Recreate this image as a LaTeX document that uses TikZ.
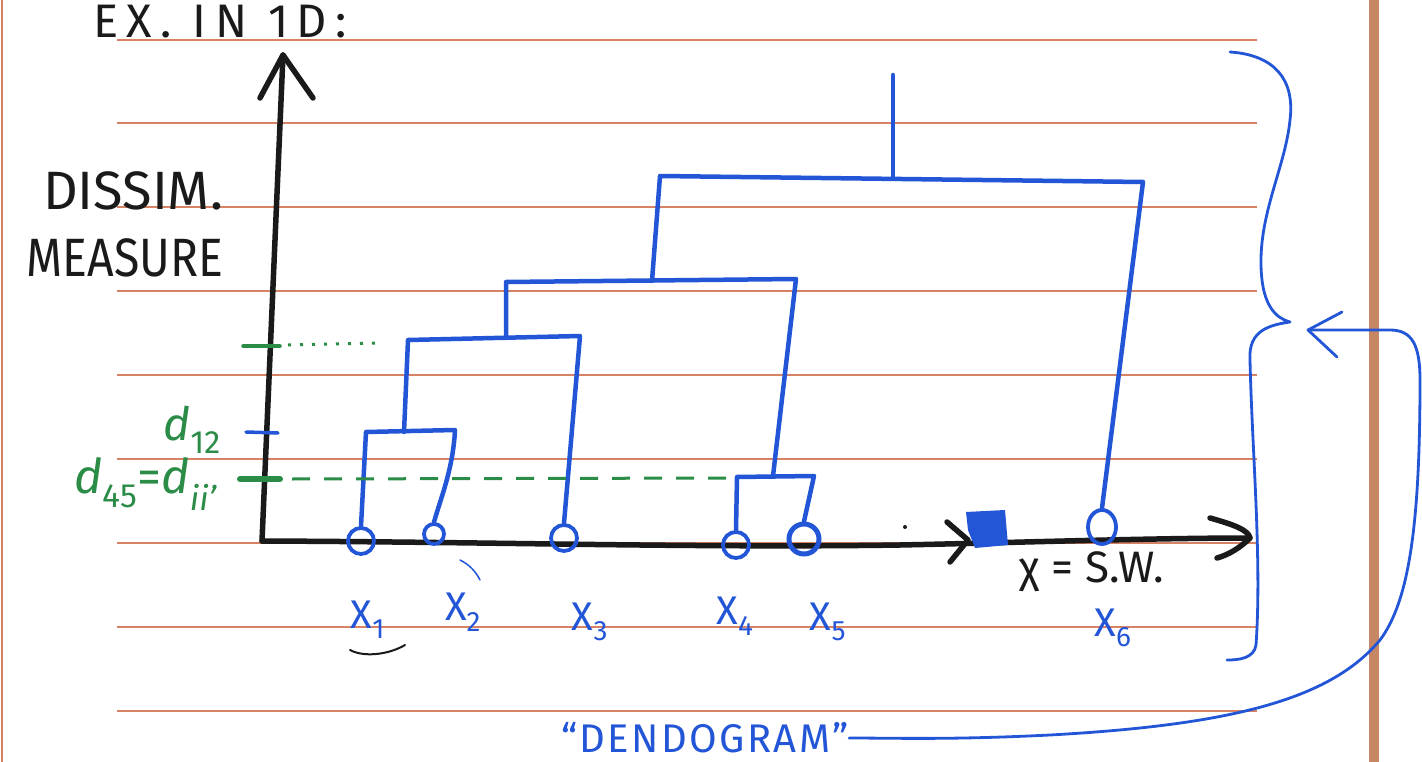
\documentclass[tikz,border=0pt]{standalone}
\usepackage{fontspec}
\usetikzlibrary{shapes.geometric}
\setmainfont{Fira Sans}
\definecolor{pen}{HTML}{2355D7}
\definecolor{grn}{HTML}{2A8C46}
\definecolor{rule}{HTML}{D78264}
\definecolor{marg}{HTML}{C88764}
\definecolor{ink}{HTML}{1A1A1A}
\tikzset{
  ruleline/.style={rule, line width=1.1pt},
  axisline/.style={ink, line width=5.5pt, line cap=round, line join=round},
  dend/.style={pen, line width=4.5pt, line cap=round, line join=round},
  leaf/.style={circle, draw=pen, line width=3.8pt, minimum size=26pt, inner sep=0pt},
  blacktext/.style={ink, inner sep=0pt, anchor=center},
  bluetext/.style={pen, inner sep=0pt, anchor=center},
  greentext/.style={grn, inner sep=0pt, anchor=center},
  bluecurve/.style={pen, line width=2.8pt, line cap=round, line join=round},
}
\begin{document}
\begin{tikzpicture}[x=1pt,y=-1pt]
\useasboundingbox (0,0) rectangle (1422,762);
\fill[white] (0,0) rectangle (1422,762);
% paper
\foreach \yy in {40,123,207,291,375,459,543,627,711}
  \draw[ruleline] (117,\yy) -- (1257,\yy);
\draw[marg, line width=10pt] (1374,0) -- (1374,762);
\draw[rule, line width=2pt] (1.5,0) -- (1.5,762);

% axes
\coordinate (o) at (262,541);
\coordinate (ytop) at (283,55);
\coordinate (xend) at (1250,538);
\draw[axisline] (o) -- (ytop);
\draw[axisline] (260,98) -- (ytop) -- (313,98);
\draw[axisline] (o) .. controls (500,542) and (700,548) .. (900,545) .. controls (1000,543) and (1150,538) .. (xend);
\draw[axisline] (1210,518) .. controls (1235,525) and (1248,530) .. (xend) .. controls (1240,548) and (1228,555) .. (1217,558);
\draw[axisline] (947,522) -- (968,540) -- (950,562);
\fill[ink] (905,527) circle (2pt);

% leaves
\node[leaf] (x1) at (361,541) {};
\node[leaf, minimum size=20pt] (x2) at (434,534) {};
\node[leaf] (x3) at (564,538) {};
\node[leaf] (x4) at (736,545) {};
\node[leaf, minimum size=30pt, line width=5pt] (x5) at (804,539) {};
\node[ellipse, draw=pen, line width=3.8pt, inner sep=0pt, minimum width=28pt, minimum height=34pt] (x6) at (1102,527) {};
\fill[pen] (966,512) -- (1005,510) -- (1008,545) -- (975,548) -- (968,530) -- cycle;
\node[inner sep=0pt] (blob) at (988,530) {};

% merge points
\coordinate (a1) at (366,432);
\coordinate (a2) at (455,430);
\coordinate (m12) at (404,432);
\coordinate (b12) at (408,340);
\coordinate (b3) at (580,336);
\coordinate (m123) at (506,338);
\coordinate (c4) at (737,477);
\coordinate (c5) at (814,476);
\coordinate (m45) at (773,476);
\coordinate (d123) at (506,282);
\coordinate (d45) at (796,279);
\coordinate (m1to5) at (652,281);
\coordinate (e1) at (660,176);
\coordinate (e6) at (1143,182);
\coordinate (root) at (893,178);
\coordinate (rtop) at (893,75);

% dendrogram
\draw[dend] (x1.north) -- (a1) -- (a2) .. controls (453,470) and (440,500) .. (x2.north);
\draw[dend] (m12) -- (b12) -- (b3) -- (x3.north);
\draw[dend] (m123) -- (d123) -- (d45) -- (m45);
\draw[dend] (x4.north) -- (c4) -- (c5) -- (x5.north);
\draw[dend] (m1to5) -- (e1) -- (e6) -- (x6.north);
\draw[dend] (root) -- (rtop);

% green / blue levels
\draw[pen, line width=3.5pt, line cap=round] (246,432) -- (278,433);
\draw[grn, line width=6pt, line cap=round] (240,479) -- (280,479);
\draw[grn, line width=3pt, dash pattern=on 18pt off 14pt] (292,479) -- (735,478);
\draw[grn, line width=3.5pt, line cap=round] (243,346) -- (280,346);
\draw[grn, line width=3pt, dash pattern=on 3pt off 9pt] (288,345) -- (382,343);

% texts
\node[blacktext] (t1) at (220,22) {\fontsize{47}{47}\selectfont\addfontfeature{LetterSpace=18}EX. IN 1D:};
\node[blacktext] (t2) at (133,191) {\fontsize{54}{54}\selectfont DISSIM.};
\node[blacktext] (t3) at (125,258) {\scalebox{0.86}[1]{\fontsize{54}{54}\selectfont MEASURE}};
\node[greentext] (t4) at (192,430) {\fontsize{46}{46}\selectfont\textit{d}\textsubscript{12}};
\node[greentext] (t5) at (146,484) {\fontsize{48}{48}\selectfont\textit{d}\textsubscript{45}=\textit{d}\textsubscript{\textit{ii'}}};
\node[blacktext] (t6) at (1092,572) {\fontsize{44}{44}\selectfont χ = S.W.};
\node[bluetext] (l1) at (368,620) {\fontsize{40}{40}\selectfont X\textsubscript{1}};
\node[bluetext] (l2) at (463,612) {\fontsize{40}{40}\selectfont X\textsubscript{2}};
\node[bluetext] (l3) at (590,622) {\fontsize{40}{40}\selectfont X\textsubscript{3}};
\node[bluetext] (l4) at (735,616) {\fontsize{40}{40}\selectfont X\textsubscript{4}};
\node[bluetext] (l5) at (828,622) {\fontsize{40}{40}\selectfont X\textsubscript{5}};
\node[bluetext] (l6) at (1113,628) {\fontsize{40}{40}\selectfont X\textsubscript{6}};
\node[bluetext] (dg) at (705,738) {\fontsize{40}{40}\selectfont\addfontfeature{LetterSpace=6}“DENDOGRAM”};

% small marks
\draw[pen, line width=1.5pt, line cap=round] (460,560) .. controls (470,565) and (476,572) .. (480,580);
\draw[ink, line width=2pt, line cap=round] (350,650) .. controls (365,658) and (390,654) .. (405,645);

% brace and arrow
\coordinate (btip) at (1290,322);
\coordinate (ahead) at (1308,330);
\draw[bluecurve] (1230,52) .. controls (1275,55) and (1295,80) .. (1290,120) .. controls (1285,170) and (1255,220) .. (1262,280) .. controls (1265,305) and (1275,318) .. (btip) .. controls (1270,325) and (1248,330) .. (1250,360) .. controls (1252,450) and (1262,560) .. (1256,645) .. controls (1254,658) and (1240,660) .. (1227,660);
\draw[bluecurve] (1342,312) -- (ahead) -- (1337,357);
\draw[bluecurve] (ahead) -- (1390,330) .. controls (1412,330) and (1420,345) .. (1420,380) .. controls (1420,520) and (1410,600) .. (1380,640) .. controls (1330,700) and (1230,725) .. (1050,735) .. controls (950,740) and (895,738) .. (dg.east);
\end{tikzpicture}
\end{document}
